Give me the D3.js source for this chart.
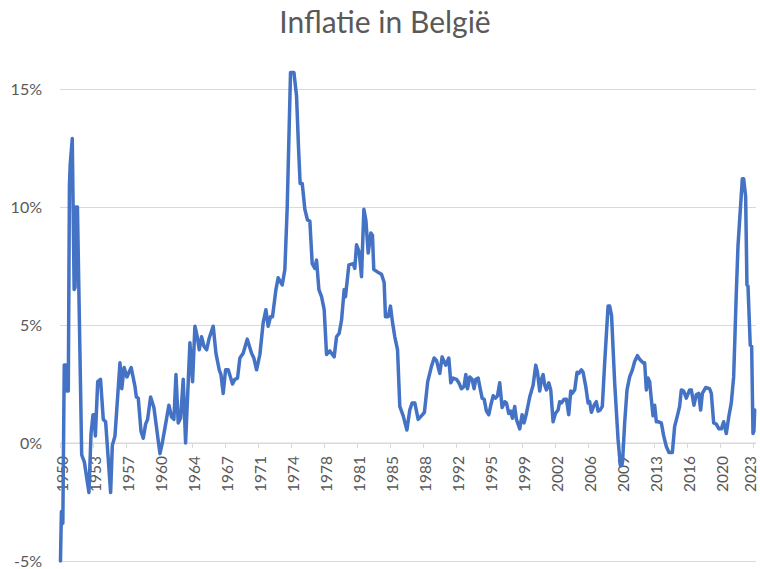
<!DOCTYPE html>
<html>
<head>
<meta charset="utf-8">
<script src="https://cdn.jsdelivr.net/npm/d3@7"></script>
<style>
  html, body { margin: 0; padding: 0; background: #fff; }
  svg { display: block; font-family: Lato, "Open Sans", sans-serif; }
</style>
</head>
<body>
<svg id="chart" width="760" height="569"></svg>
<script>
// ---- data ----
const title = "Inflatie in België";

const years = [
  1950.05, 1950.15, 1950.30, 1950.45, 1950.65, 1950.75, 1950.88, 1951.00, 1951.08, 1951.30,
  1951.50, 1951.60, 1951.68, 1951.85, 1952.30, 1952.58, 1953.07, 1953.29, 1953.50, 1953.60,
  1953.75, 1954.00, 1954.30, 1954.59, 1954.84, 1955.37, 1955.55, 1955.83, 1956.36, 1956.55,
  1956.80, 1957.10, 1957.55, 1957.95, 1958.10, 1958.30, 1958.59, 1958.83, 1959.08, 1959.29,
  1959.61, 1959.96, 1960.60, 1960.85, 1961.20, 1961.55, 1961.84, 1962.08, 1962.30, 1962.54,
  1962.79, 1963.07, 1963.32, 1963.78, 1964.06, 1964.31, 1964.56, 1964.77, 1965.02, 1965.27,
  1965.55, 1965.83, 1966.25, 1966.54, 1966.89, 1967.07, 1967.31, 1967.56, 1967.84, 1968.30,
  1968.55, 1968.83, 1969.08, 1969.43, 1969.86, 1970.32, 1970.56, 1970.85, 1971.20, 1971.55,
  1971.84, 1972.08, 1972.33, 1972.54, 1972.90, 1973.14, 1973.57, 1973.85, 1974.10, 1974.45,
  1974.81, 1975.09, 1975.30, 1975.47, 1975.69, 1975.97, 1976.25, 1976.50, 1976.75, 1977.03,
  1977.21, 1977.46, 1977.74, 1978.02, 1978.27, 1978.62, 1979.08, 1979.33, 1979.61, 1979.86,
  1980.14, 1980.28, 1980.64, 1981.10, 1981.27, 1981.45, 1981.73, 1981.98, 1982.23, 1982.44,
  1982.69, 1982.97, 1983.14, 1983.28, 1983.67, 1984.10, 1984.38, 1984.52, 1984.81, 1985.05,
  1985.27, 1985.51, 1985.80, 1986.04, 1986.40, 1986.79, 1987.10, 1987.35, 1987.63, 1987.99,
  1988.45, 1988.65, 1989.00, 1989.40, 1989.68, 1989.93, 1990.28, 1990.53, 1990.74, 1990.92,
  1991.24, 1991.45, 1991.70, 1992.05, 1992.30, 1992.58, 1992.86, 1993.04, 1993.22, 1993.46,
  1993.71, 1993.92, 1994.10, 1994.35, 1994.52, 1994.77, 1994.99, 1995.23, 1995.48, 1995.69,
  1995.94, 1996.18, 1996.40, 1996.64, 1996.89, 1997.17, 1997.35, 1997.60, 1997.81, 1997.98,
  1998.23, 1998.41, 1998.76, 1999.01, 1999.22, 1999.47, 1999.82, 2000.18, 2000.46, 2000.64,
  2000.88, 2001.06, 2001.24, 2001.41, 2001.59, 2001.84, 2002.05, 2002.30, 2002.54, 2002.83,
  2003.00, 2003.18, 2003.46, 2003.71, 2003.96, 2004.17, 2004.31, 2004.59, 2004.84, 2005.02,
  2005.30, 2005.48, 2005.76, 2006.01, 2006.18, 2006.36, 2006.64, 2006.89, 2007.07, 2007.30,
  2007.52, 2007.77, 2008.13, 2008.30, 2008.50, 2008.83, 2009.19, 2009.43, 2009.60, 2009.70,
  2009.89, 2010.14, 2010.42, 2010.71, 2010.95, 2011.24, 2011.48, 2011.84, 2012.01, 2012.19,
  2012.37, 2012.54, 2012.72, 2012.90, 2013.07, 2013.25, 2013.43, 2013.78, 2014.03, 2014.31,
  2014.59, 2014.95, 2015.19, 2015.48, 2015.72, 2015.90, 2016.15, 2016.43, 2016.78, 2016.96,
  2017.24, 2017.49, 2017.74, 2017.95, 2018.13, 2018.48, 2018.90, 2019.08, 2019.33, 2019.61,
  2019.89, 2020.14, 2020.39, 2020.67, 2020.95, 2021.20, 2021.45, 2021.73, 2021.91, 2022.16,
  2022.37, 2022.51, 2022.72, 2022.86, 2022.97, 2023.21, 2023.36, 2023.50, 2023.60, 2023.68
];

const inflation = [
  -5.0, -2.9, -3.4, 3.3, 3.3, 2.2, 2.2, 10.9, 11.8, 12.9,
  6.5, 6.6, 10.0, 10.0, -0.5, -0.8, -2.1, 0.4, 1.2, 1.2,
  0.3, 2.6, 2.7, 1.0, 0.9, -2.1, -0.1, 0.3, 3.4, 2.3,
  3.2, 2.8, 3.2, 2.4, 1.95, 1.9, 0.5, 0.2, 0.8, 1.0,
  1.95, 1.5, -0.45, 0.0, 0.8, 1.6, 1.1, 1.0, 2.9, 0.85,
  1.05, 2.7, 0.0, 4.25, 2.6, 4.95, 4.5, 3.95, 4.5, 4.1,
  3.95, 4.45, 4.95, 3.8, 3.1, 2.9, 2.1, 3.1, 3.1, 2.5,
  2.7, 2.75, 3.6, 3.8, 4.4, 3.8, 3.6, 3.1, 3.75, 5.1,
  5.65, 4.95, 5.35, 5.35, 6.5, 7.0, 6.7, 7.35, 10.0, 15.7,
  15.7, 14.7, 12.5, 11.0, 11.0, 9.9, 9.45, 9.4, 7.6, 7.4,
  7.75, 6.5, 6.2, 5.65, 3.75, 3.9, 3.65, 4.5, 4.65, 5.2,
  6.5, 6.2, 7.55, 7.6, 7.4, 8.4, 8.1, 7.05, 9.9, 9.45,
  8.05, 8.9, 8.8, 7.35, 7.25, 7.15, 6.8, 5.35, 5.35, 5.8,
  5.1, 4.5, 3.95, 1.55, 1.15, 0.55, 1.4, 1.7, 1.7, 1.0,
  1.2, 1.3, 2.6, 3.25, 3.6, 3.5, 2.95, 3.65, 3.45, 3.3,
  3.6, 2.55, 2.75, 2.7, 2.55, 2.3, 2.4, 2.9, 2.3, 2.8,
  2.7, 2.3, 2.7, 2.75, 2.4, 1.9, 1.85, 1.35, 1.2, 1.6,
  2.0, 1.9, 2.0, 2.55, 1.5, 1.75, 1.7, 1.25, 1.35, 1.05,
  1.55, 1.0, 0.6, 1.2, 0.85, 1.25, 1.95, 2.45, 3.3, 3.0,
  2.2, 2.7, 2.9, 2.45, 2.25, 2.55, 2.25, 0.9, 1.25, 1.4,
  1.75, 1.7, 1.85, 1.85, 1.2, 2.2, 2.1, 2.25, 3.0, 2.95,
  3.1, 3.0, 2.4, 1.7, 1.75, 1.3, 1.6, 1.75, 1.35, 1.4,
  1.55, 3.4, 5.8, 5.8, 5.4, 2.55, 0.15, -0.95, -0.95, -0.55,
  0.85, 2.25, 2.8, 3.1, 3.45, 3.7, 3.55, 3.4, 3.4, 2.25,
  2.75, 2.6, 1.85, 1.15, 1.6, 0.9, 0.9, 0.85, 0.3, -0.15,
  -0.4, -0.4, 0.7, 1.15, 1.55, 2.25, 2.2, 1.9, 2.25, 2.25,
  1.6, 2.05, 2.1, 1.4, 2.1, 2.35, 2.3, 2.1, 0.85, 0.8,
  0.6, 0.6, 0.9, 0.4, 1.15, 1.7, 2.8, 6.35, 8.35, 9.9,
  11.2, 11.2, 10.45, 6.7, 6.65, 4.15, 4.1, 0.4, 0.5, 1.4
];

const tickYears  = [1950, 1953.5, 1957, 1960.5, 1964, 1967.5, 1971, 1974.5, 1978, 1981.5, 1985,
                    1988.5, 1992, 1995.5, 1999, 2002.5, 2006, 2009.5, 2013, 2016.5, 2020, 2023.5];
const tickLabels = ["1950", "1953", "1957", "1960", "1964", "1967", "1971", "1974", "1978", "1981", "1985",
                    "1988", "1992", "1995", "1999", "2002", "2006", "2009", "2013", "2016", "2020", "2023"];
const yTicks = [-5, 0, 5, 10, 15];

// ---- layout ----
const svg = d3.select("#chart");
const plotLeft = 60, plotRight = 756, plotTop = 89, plotBottom = 561;

const x = d3.scaleLinear().domain([1950, 2023.82]).range([plotLeft, plotRight]);
const y = d3.scaleLinear().domain([-5, 15]).range([plotBottom, plotTop]);

const textColor = "#595959";
const gridColor = "#d9d9d9";
const fontStack = "Lato, 'Open Sans', sans-serif";

// title
svg.append("text")
  .attr("x", 385).attr("y", 33)
  .attr("text-anchor", "middle")
  .attr("fill", textColor)
  .style("font-size", "30px")
  .style("font-family", fontStack)
  .text(title);

// gridlines + y labels
const yAxis = d3.axisLeft(y)
  .tickValues(yTicks)
  .tickSize(-(plotRight - plotLeft))
  .tickPadding(18)
  .tickFormat(d => d + "%");

const gy = svg.append("g")
  .attr("transform", `translate(${plotLeft},0)`)
  .call(yAxis);
gy.select(".domain").remove();
gy.selectAll(".tick line").attr("stroke", gridColor).attr("stroke-width", 1);
gy.selectAll(".tick text")
  .attr("fill", textColor)
  .style("font-size", "16px")
  .style("font-family", fontStack);

// x axis at 0%
const xAxis = d3.axisBottom(x)
  .tickValues(tickYears)
  .tickSize(5)
  .tickFormat((d, i) => tickLabels[i]);

const gx = svg.append("g")
  .attr("transform", `translate(0,${y(0)})`)
  .call(xAxis);
gx.select(".domain").attr("stroke", gridColor).attr("d", `M${plotLeft},0H${plotRight}`);
gx.selectAll(".tick line").attr("stroke", gridColor);
const nTicks = tickYears.length;
gx.selectAll(".tick text")
  .attr("fill", textColor)
  .style("font-size", "15.5px")
  .style("font-family", fontStack)
  .attr("text-anchor", "end")
  .attr("dy", null)
  .attr("y", 0)
  .attr("dominant-baseline", "central")
  .attr("transform", (d, i) => `translate(${i === nTicks - 1 ? -3 : 1.5},13) rotate(-90)`);

// line
const points = years.map((yr, i) => [yr, inflation[i]]);
const line = d3.line()
  .x(d => x(d[0]))
  .y(d => y(d[1]));

svg.append("path")
  .datum(points)
  .attr("fill", "none")
  .attr("stroke", "#4472C4")
  .attr("stroke-width", 3.5)
  .attr("stroke-linejoin", "round")
  .attr("stroke-linecap", "round")
  .attr("d", line);
</script>
</body>
</html>
